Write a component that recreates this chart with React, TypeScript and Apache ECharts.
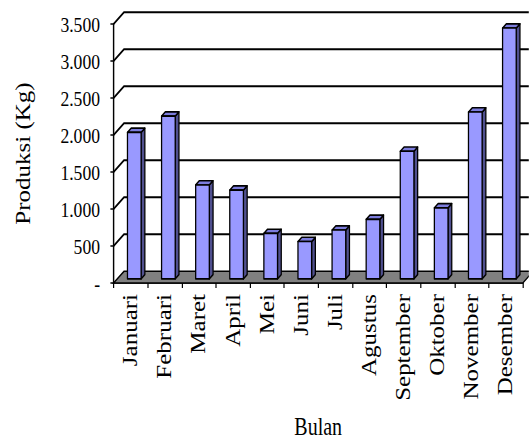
import { useEffect, useRef } from "react";
import * as echarts from "echarts";

// Monthly production data
const months = [
  "Januari", "Februari", "Maret", "April", "Mei", "Juni",
  "Juli", "Agustus", "September", "Oktober", "November", "Desember",
];
const produksi = [1980, 2200, 1270, 1200, 615, 505, 660, 805, 1725, 960, 2255, 3390];

// Value axis ticks and their labels
const yTicks = [0, 500, 1000, 1500, 2000, 2500, 3000, 3500];
const yTickLabels = ["-", "500", "1.000", "1.500", "2.000", "2.500", "3.000", "3.500"];

// Page size and the horizontal squeeze applied to the rendered chart
const W = 529;
const H = 444;
const SQUEEZE = 0.8;
const CW = W / SQUEEZE;

// Perspective offset from the front plane to the back wall
const DEPTH: [number, number] = [13, -11.7];
const BAR_FRONT = 0.35;
const BAR_DEPTH = 0.36;
const FONT = "'Liberation Serif', 'Times New Roman', serif";

export default function App() {
  const ref = useRef<HTMLDivElement>(null);

  useEffect(() => {
    if (!ref.current) return;
    const chart = echarts.init(ref.current, null, { renderer: "svg" });
    const [dx, dy] = DEPTH;

    chart.setOption({
      animation: false,
      grid: { left: 142, right: CW - 653.75, top: 24, bottom: H - 288.3, containLabel: false },
      xAxis: {
        type: "category",
        data: months,
        boundaryGap: true,
        axisLine: { show: true, lineStyle: { color: "#000", width: 1.5 } },
        axisTick: { show: true, length: 5, lineStyle: { color: "#000", width: 1.5 } },
        axisLabel: {
          rotate: 90,
          interval: 0,
          margin: 11,
          fontSize: 25,
          fontFamily: FONT,
          color: "#000",
        },
        splitLine: { show: false },
        name: "Bulan",
        nameLocation: "middle",
        nameGap: 131,
        nameTextStyle: { fontSize: 25, fontFamily: FONT, color: "#000" },
      },
      yAxis: {
        type: "value",
        min: 0,
        max: 3500,
        interval: 500,
        axisLine: { show: true, lineStyle: { color: "#000", width: 1.8 } },
        axisTick: { show: true, length: 4, lineStyle: { color: "#000", width: 1.5 } },
        axisLabel: {
          margin: 17,
          fontSize: 22,
          fontFamily: FONT,
          color: "#000",
          formatter: (val: number) => {
            const k = yTicks.indexOf(val);
            return k >= 0 ? yTickLabels[k] : "";
          },
        },
        splitLine: { show: false },
        name: "Produksi (Kg)",
        nameLocation: "middle",
        nameRotate: 90,
        nameGap: 100,
        nameTextStyle: { fontSize: 25, fontFamily: FONT, color: "#000" },
      },
      series: [
        {
          // floor and back-wall gridlines
          type: "custom",
          silent: true,
          encode: { x: 0, y: 1 },
          data: yTicks.map((v) => [0, v]),
          renderItem: (params: any, api: any) => {
            const cs = params.coordSys;
            const v = api.value(1);
            const y = api.coord([0, v])[1];
            const x0 = cs.x;
            const x1 = cs.x + cs.width;
            if (v === 0) {
              return {
                type: "polygon",
                shape: { points: [[x0, y], [x1, y], [x1 + dx, y + dy], [x0 + dx, y + dy]] },
                style: { fill: "#808080", stroke: "#000", lineWidth: 1.6 },
              };
            }
            return {
              type: "polyline",
              shape: { points: [[x0, y], [x0 + dx, y + dy], [x1 + dx, y + dy]] },
              style: { fill: null, stroke: "#000", lineWidth: 2 },
            };
          },
        },
        {
          // 3D columns
          type: "custom",
          silent: true,
          encode: { x: 0, y: 1 },
          data: produksi.map((v, i) => [i, v]),
          renderItem: (params: any, api: any) => {
            const i = api.value(0);
            const v = api.value(1);
            const base = api.coord([i, 0]);
            const top = api.coord([i, v]);
            const band = api.size([1, 0])[0];
            const w = band * 0.4;
            const xl = base[0] - w / 2 + BAR_FRONT * dx;
            const xr = xl + w;
            const yb = base[1] + BAR_FRONT * dy;
            const yt = top[1] + BAR_FRONT * dy;
            const bx = BAR_DEPTH * dx;
            const by = BAR_DEPTH * dy;
            const edge = { stroke: "#000", lineWidth: 1.6, lineJoin: "round" };
            return {
              type: "group",
              children: [
                {
                  type: "polygon",
                  shape: { points: [[xr, yb], [xr + bx, yb + by], [xr + bx, yt + by], [xr, yt]] },
                  style: { fill: "#50508F", ...edge },
                },
                {
                  type: "polygon",
                  shape: { points: [[xl, yt], [xr, yt], [xr + bx, yt + by], [xl + bx, yt + by]] },
                  style: { fill: "#7C7CDC", ...edge },
                },
                {
                  type: "rect",
                  shape: { x: xl, y: yt, width: w, height: yb - yt },
                  style: { fill: "#9999FF", ...edge },
                },
              ],
            };
          },
        },
      ],
    });

    return () => chart.dispose();
  }, []);

  return (
    <div
      style={{
        position: "absolute",
        left: 0,
        top: 0,
        width: W,
        height: H,
        overflow: "hidden",
        background: "#fff",
      }}
    >
      <div
        ref={ref}
        style={{
          width: CW,
          height: H,
          transform: `scaleX(${SQUEEZE})`,
          transformOrigin: "0 0",
        }}
      />
    </div>
  );
}
